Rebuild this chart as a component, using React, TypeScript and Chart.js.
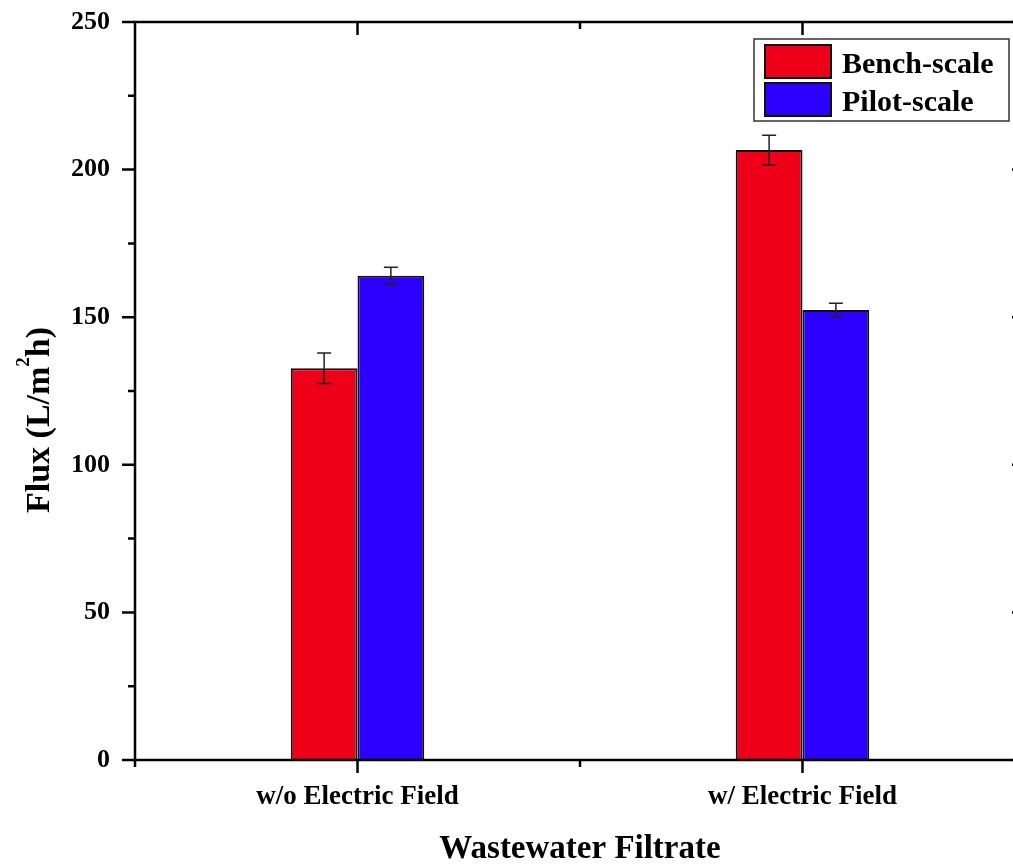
import React, { useEffect, useRef } from "react";
import { Chart, registerables } from "chart.js";

Chart.register(...registerables);

// Mean flux per condition and its error (L/m²h)
const categories = ["w/o Electric Field", "w/ Electric Field"];
const seriesNames = ["Bench-scale", "Pilot-scale"];
const benchScale = [132.7, 206.6];
const benchScaleErr = [5.2, 5.0];
const pilotScale = [164.0, 152.4];
const pilotScaleErr = [2.9, 2.3];
const yMin = 0;
const yMax = 250;
const yMajorStep = 50;
const yMinorStep = 25;
const xTitle = "Wastewater Filtrate";
const yTitleParts = ["Flux (L/m", "2", "h)"];

const RED = "#ED0018";
const BLUE = "#2B00FF";
const FONT = "'Liberation Serif', 'Times New Roman', serif";

const CANVAS_W = 1060;
const CANVAS_H = 864;

const errors = [benchScaleErr, pilotScaleErr];

const figurePlugin = {
  id: "figureDecor",
  afterDatasetsDraw(chart: any) {
    const { ctx, scales } = chart;
    const y = scales.y;
    ctx.save();
    ctx.strokeStyle = "#222";
    ctx.lineWidth = 1.5;
    chart.data.datasets.forEach((ds: any, di: number) => {
      const meta = chart.getDatasetMeta(di);
      meta.data.forEach((bar: any, i: number) => {
        const v = ds.data[i];
        const e = errors[di][i];
        const yTop = y.getPixelForValue(v + e);
        const yBot = y.getPixelForValue(v - e);
        const cx = bar.x;
        const cap = 7;
        ctx.beginPath();
        ctx.moveTo(cx, yTop);
        ctx.lineTo(cx, yBot);
        ctx.moveTo(cx - cap, yTop);
        ctx.lineTo(cx + cap, yTop);
        ctx.moveTo(cx - cap, yBot);
        ctx.lineTo(cx + cap, yBot);
        ctx.stroke();
      });
    });
    ctx.restore();
  },
  afterDraw(chart: any) {
    const { ctx, chartArea: a, scales } = chart;
    const x = scales.x;
    const y = scales.y;
    ctx.save();

    // Frame
    ctx.strokeStyle = "#000";
    ctx.lineWidth = 2.5;
    ctx.lineCap = "square";
    ctx.strokeRect(a.left, a.top, a.right - a.left, a.bottom - a.top);

    // Y ticks: outward on the left, inward on the right
    ctx.lineCap = "butt";
    for (let v = yMin; v <= yMax; v += yMinorStep) {
      const major = v % yMajorStep === 0;
      const len = major ? 13 : 7;
      const py = y.getPixelForValue(v);
      ctx.beginPath();
      ctx.moveTo(a.left - len, py);
      ctx.lineTo(a.left, py);
      ctx.moveTo(a.right - len, py);
      ctx.lineTo(a.right, py);
      ctx.stroke();
    }

    // X ticks: major at categories, minor at boundaries
    categories.forEach((_, i) => {
      const px = x.getPixelForValue(i);
      ctx.beginPath();
      ctx.moveTo(px, a.bottom);
      ctx.lineTo(px, a.bottom + 13);
      ctx.moveTo(px, a.top);
      ctx.lineTo(px, a.top + 13);
      ctx.stroke();
    });
    for (let i = 0; i <= categories.length; i++) {
      const px = x.getPixelForValue(i - 0.5);
      ctx.beginPath();
      ctx.moveTo(px, a.bottom);
      ctx.lineTo(px, a.bottom + 7);
      if (i > 0 && i < categories.length) {
        ctx.moveTo(px, a.top);
        ctx.lineTo(px, a.top + 7);
      }
      ctx.stroke();
    }

    // X axis title
    ctx.fillStyle = "#000";
    ctx.font = `bold 33px ${FONT}`;
    ctx.textAlign = "center";
    ctx.textBaseline = "alphabetic";
    ctx.fillText(xTitle, (a.left + a.right) / 2, a.bottom + 98);

    // Y axis title with superscript
    ctx.save();
    ctx.translate(49, a.top + 398);
    ctx.rotate(-Math.PI / 2);
    ctx.textAlign = "left";
    const mainFont = `bold 34px ${FONT}`;
    const supFont = `bold 19px ${FONT}`;
    ctx.font = mainFont;
    const w0 = ctx.measureText(yTitleParts[0]).width;
    const w2 = ctx.measureText(yTitleParts[2]).width;
    ctx.font = supFont;
    const w1 = ctx.measureText(yTitleParts[1]).width;
    let tx = -(w0 + w1 + w2) / 2;
    ctx.font = mainFont;
    ctx.fillText(yTitleParts[0], tx, 0);
    tx += w0;
    ctx.font = supFont;
    ctx.fillText(yTitleParts[1], tx, -20);
    tx += w1;
    ctx.font = mainFont;
    ctx.fillText(yTitleParts[2], tx, 0);
    ctx.restore();

    // Legend
    const bx = a.right - 271;
    const by = a.top + 17;
    const bw = 255;
    const bh = 82;
    ctx.lineWidth = 1.5;
    ctx.strokeStyle = "#333";
    ctx.fillStyle = "#fff";
    ctx.fillRect(bx, by, bw, bh);
    ctx.strokeRect(bx, by, bw, bh);
    const colors = [RED, BLUE];
    ctx.font = `bold 30px ${FONT}`;
    ctx.textAlign = "left";
    ctx.textBaseline = "alphabetic";
    seriesNames.forEach((name, i) => {
      const sy = by + 6 + i * 38;
      ctx.fillStyle = colors[i];
      ctx.fillRect(bx + 11, sy, 66, 33);
      ctx.lineWidth = 2;
      ctx.strokeStyle = "#111";
      ctx.strokeRect(bx + 11, sy, 66, 33);
      ctx.fillStyle = "#000";
      ctx.fillText(name, bx + 88, sy + 28);
    });

    ctx.restore();
  },
};

export default function App() {
  const canvasRef = useRef<HTMLCanvasElement | null>(null);

  useEffect(() => {
    const canvas = canvasRef.current;
    if (!canvas) return;
    const chart = new Chart(canvas, {
      type: "bar",
      data: {
        labels: categories,
        datasets: [
          {
            label: seriesNames[0],
            data: benchScale,
            backgroundColor: RED,
            borderColor: "#111",
            borderWidth: 2,
            categoryPercentage: 0.3,
            barPercentage: 1.0,
          },
          {
            label: seriesNames[1],
            data: pilotScale,
            backgroundColor: BLUE,
            borderColor: "#111",
            borderWidth: 2,
            categoryPercentage: 0.3,
            barPercentage: 1.0,
          },
        ],
      },
      options: {
        responsive: false,
        animation: false,
        devicePixelRatio: 1,
        layout: { padding: { top: 22, right: CANVAS_W - 1025, left: 0, bottom: 0 } },
        plugins: {
          legend: { display: false },
          tooltip: { enabled: false },
        },
        scales: {
          x: {
            grid: { display: false, drawTicks: false },
            border: { display: false },
            ticks: {
              color: "#000",
              padding: 21,
              font: { family: FONT, weight: "bold", size: 27 },
            },
            afterFit: (s: any) => {
              s.height = 104;
              s.paddingLeft = 0;
              s.paddingRight = 0;
            },
          },
          y: {
            min: yMin,
            max: yMax,
            grid: { display: false, drawTicks: false },
            border: { display: false },
            ticks: {
              stepSize: yMajorStep,
              color: "#000",
              padding: 25,
              font: { family: FONT, weight: "bold", size: 26 },
            },
            afterFit: (s: any) => {
              s.width = 135;
              s.paddingTop = 0;
              s.paddingBottom = 0;
            },
          },
        },
      },
      plugins: [figurePlugin],
    });
    return () => chart.destroy();
  }, []);

  return (
    <div
      style={{
        position: "fixed",
        left: 0,
        top: 0,
        width: 1013,
        height: 864,
        overflow: "hidden",
        background: "#fff",
      }}
    >
      <canvas
        ref={canvasRef}
        width={CANVAS_W}
        height={CANVAS_H}
        style={{ display: "block", width: CANVAS_W, height: CANVAS_H }}
      />
    </div>
  );
}
